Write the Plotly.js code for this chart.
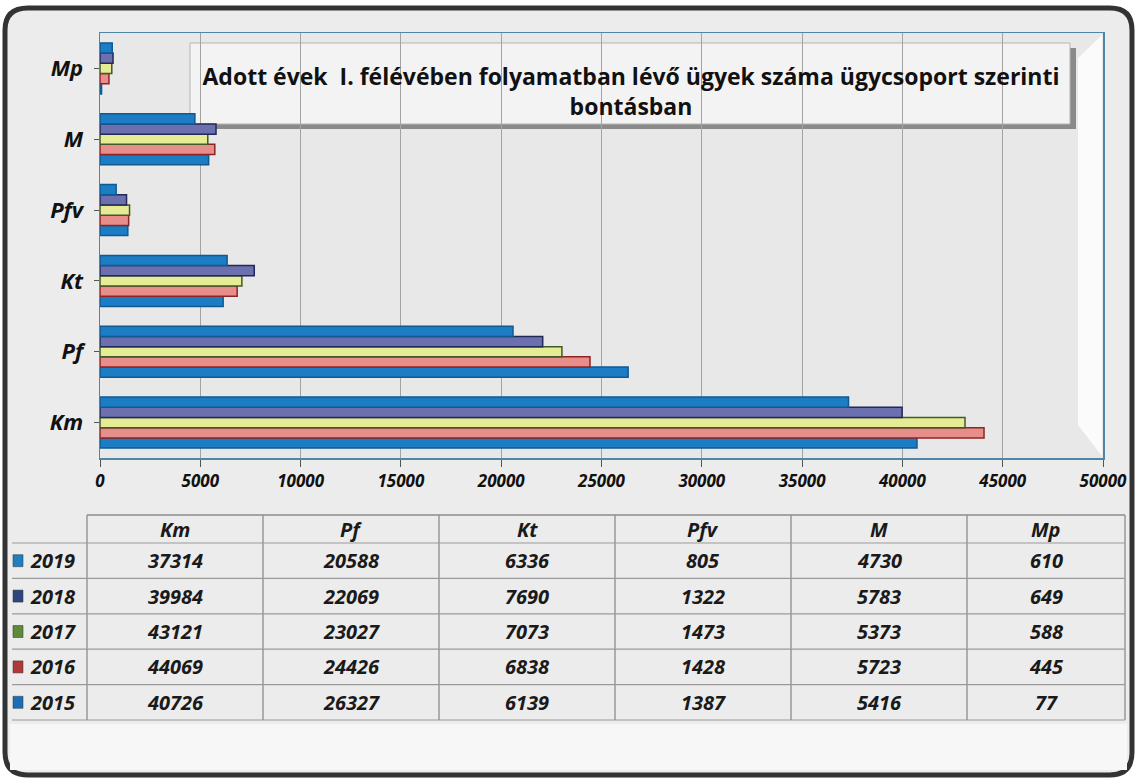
<!DOCTYPE html>
<html>
<head>
<meta charset="utf-8">
<script src="https://cdn.plot.ly/plotly-3.0.1.min.js"></script>
<style>html,body{margin:0;padding:0;background:#fff;}#chart{width:1137px;height:780px;}</style>
</head>
<body>
<div id="chart"></div>
<script>
// ---- data ----
const categories = ["Km", "Pf", "Kt", "Pfv", "M", "Mp"];
const years = ["2015", "2016", "2017", "2018", "2019"];
const v2015 = [40726, 26327, 6139, 1387, 5416, 77];
const v2016 = [44069, 24426, 6838, 1428, 5723, 445];
const v2017 = [43121, 23027, 7073, 1473, 5373, 588];
const v2018 = [39984, 22069, 7690, 1322, 5783, 649];
const v2019 = [37314, 20588, 6336, 805, 4730, 610];
const xTicks = [0, 5000, 10000, 15000, 20000, 25000, 30000, 35000, 40000, 45000, 50000];
const titleText = "Adott évek  I. félévében folyamatban lévő ügyek száma ügycsoport szerinti<br>bontásban";

// ---- styles ----
const W = 1137, H = 780;
const L = 100, R = 1103, T = 33, B = 458;
const FONT = "Open Sans, Noto Sans, Liberation Sans, sans-serif";
const series = [
  {name: "2015", vals: v2015, fill: "#1c7cc4", line: "#0f5a92", key: "#1b6fb8"},
  {name: "2016", vals: v2016, fill: "#e88e8a", line: "#8e2424", key: "#b0393a"},
  {name: "2017", vals: v2017, fill: "#e6eb95", line: "#3f5a2a", key: "#5f8a3a"},
  {name: "2018", vals: v2018, fill: "#6c70ae", line: "#1f2a55", key: "#2e4580"},
  {name: "2019", vals: v2019, fill: "#1c7cc4", line: "#0f5a92", key: "#1f7fc0"}
];

// paper coords are relative to the plot area
const px = x => (x - L) / (R - L);
const py = y => (B - y) / (B - T);

const traces = series.map(s => ({
  type: "bar",
  orientation: "h",
  name: s.name,
  y: categories,
  x: s.vals,
  marker: {color: s.fill, line: {color: s.line, width: 1.5}},
  hoverinfo: "x+name"
}));

const shapes = [];
const annotations = [];

// outer frame
shapes.push({type: "path", xref: "paper", yref: "paper", layer: "below",
  path: `M ${px(28)},${py(8)} L ${px(1110)},${py(8)} Q ${px(1132)},${py(8)} ${px(1132)},${py(30)} L ${px(1132)},${py(752)} Q ${px(1132)},${py(775)} ${px(1110)},${py(775)} L ${px(28)},${py(775)} Q ${px(5)},${py(775)} ${px(5)},${py(752)} L ${px(5)},${py(30)} Q ${px(5)},${py(8)} ${px(28)},${py(8)} Z`,
  fillcolor: "#ececec", line: {color: "#333", width: 5}});
// lighter bottom area
shapes.push({type: "rect", xref: "paper", yref: "paper", layer: "below",
  x0: px(10), x1: px(1127), y0: py(770), y1: py(724), fillcolor: "#f7f7f7", line: {width: 0}});
// plot area background
shapes.push({type: "rect", xref: "paper", yref: "paper", layer: "below",
  x0: 0, x1: 1, y0: 0, y1: 1, fillcolor: "#e8e8e8", line: {width: 0}});
// right side wall (3D look)
shapes.push({type: "path", xref: "paper", yref: "paper", layer: "below",
  path: `M ${px(1078)},${py(58)} L ${px(1102)},${py(35)} L ${px(1102)},${py(456)} L ${px(1078)},${py(425)} Z`,
  fillcolor: "#fbfbfb", line: {width: 0}});

// title box (behind bars and gridlines)
shapes.push({type: "rect", xref: "paper", yref: "paper", layer: "below",
  x0: px(195), x1: px(1076), y0: py(129), y1: py(48), fillcolor: "#8a8a8a", line: {width: 0}});
shapes.push({type: "rect", xref: "paper", yref: "paper", layer: "below",
  x0: px(190), x1: px(1070), y0: py(124), y1: py(43), fillcolor: "#f3f3f3", line: {color: "#b5b5b5", width: 1}});

// ---- table ----
const colEdges = [87, 263, 439, 615, 791, 967, 1125];
const headerTop = 515, headerBot = 543, rowH = 35.4;
const tableBot = headerBot + rowH * 5;
colEdges.forEach(x => shapes.push({type: "line", xref: "paper", yref: "paper",
  x0: px(x), x1: px(x), y0: py(headerTop), y1: py(tableBot), line: {color: "#8c8c8c", width: 1.3}}));
shapes.push({type: "line", xref: "paper", yref: "paper", x0: px(87), x1: px(1125),
  y0: py(headerTop), y1: py(headerTop), line: {color: "#8c8c8c", width: 1.3}});
for (let i = 0; i <= 5; i++) {
  const y = headerBot + rowH * i;
  shapes.push({type: "line", xref: "paper", yref: "paper", x0: px(12), x1: px(1125),
    y0: py(y), y1: py(y), line: {color: "#9a9a9a", width: 1.2}});
}
const tFont = {family: FONT, size: 20, color: "#1a1a1a", weight: "bold", style: "italic"};
categories.forEach((c, j) => annotations.push({xref: "paper", yref: "paper",
  x: px((colEdges[j] + colEdges[j + 1]) / 2), y: py((headerTop + headerBot) / 2),
  text: c, showarrow: false, xanchor: "center", yanchor: "middle", font: tFont}));
const rowOrder = series.slice().reverse();
rowOrder.forEach((s, i) => {
  const yc = headerBot + rowH * i + rowH / 2;
  shapes.push({type: "rect", xref: "paper", yref: "paper",
    x0: px(13), x1: px(23), y0: py(yc + 6), y1: py(yc - 6),
    fillcolor: s.key, line: {color: "#333", width: 0.5}});
  annotations.push({xref: "paper", yref: "paper", x: px(28), y: py(yc),
    text: s.name, showarrow: false, xanchor: "left", yanchor: "middle",
    font: {family: FONT, size: 20, color: "#1a1a1a", weight: "bold", style: "italic"}});
  s.vals.forEach((v, j) => annotations.push({xref: "paper", yref: "paper",
    x: px((colEdges[j] + colEdges[j + 1]) / 2), y: py(yc),
    text: String(v), showarrow: false, xanchor: "center", yanchor: "middle", font: tFont}));
});

const layout = {
  width: W, height: H, autosize: false,
  margin: {l: L, r: W - R, t: T, b: H - B, pad: 0},
  paper_bgcolor: "#ffffff",
  plot_bgcolor: "rgba(0,0,0,0)",
  showlegend: false,
  barmode: "group",
  bargap: 0.28,
  bargroupgap: 0.0,
  title: {text: titleText, xref: "container", yref: "container",
    x: 631 / W, xanchor: "center", y: 1 - 85 / H, yanchor: "middle",
    font: {family: FONT, size: 23, color: "#111", weight: "bold"}},
  xaxis: {range: [0, 50000], tickvals: xTicks, ticktext: xTicks.map(String),
    showgrid: true, gridcolor: "#a3a3a3", gridwidth: 1, zeroline: false,
    showline: true, mirror: true, linecolor: "#4f86a8", linewidth: 1.5,
    ticks: "outside", ticklen: 7, tickcolor: "#555",
    tickfont: {family: FONT, size: 17, color: "#111", weight: "bold", style: "italic"},
    fixedrange: true},
  yaxis: {type: "category", categoryorder: "array", categoryarray: categories,
    showgrid: false, showline: true, mirror: true, linecolor: "#4f86a8", linewidth: 1.5,
    ticks: "outside", ticklen: 5, tickcolor: "#555", ticklabelstandoff: 6,
    tickfont: {family: FONT, size: 22, color: "#111", weight: "bold", style: "italic"},
    fixedrange: true},
  shapes: shapes,
  annotations: annotations
};

Plotly.newPlot("chart", traces, layout, {displayModeBar: false, staticPlot: true});
</script>
</body>
</html>
